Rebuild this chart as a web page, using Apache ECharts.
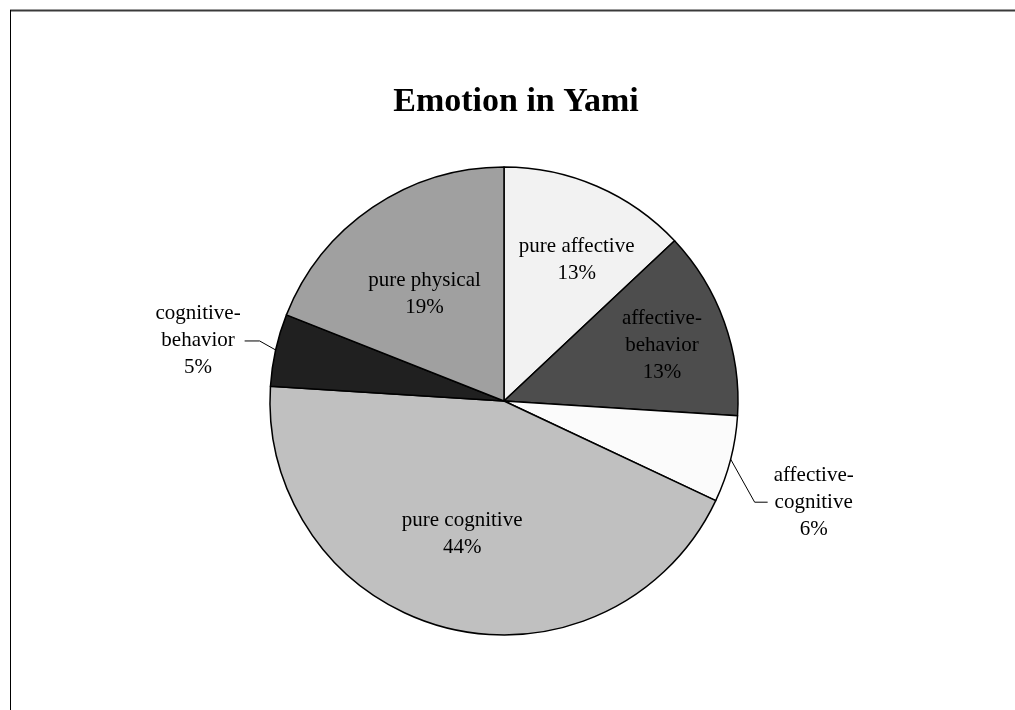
<!DOCTYPE html>
<html>
<head>
<meta charset="utf-8">
<script src="https://cdn.jsdelivr.net/npm/echarts@6/dist/echarts.min.js"></script>
<style>
  html, body { margin: 0; padding: 0; background: #ffffff; }
  #chart { width: 1015px; height: 710px; }
</style>
</head>
<body>
<div id="chart"></div>
<script>
// Share of each emotion type, in percent, clockwise from 12 o'clock
const categories = ['pure affective', 'affective-behavior', 'affective-cognitive', 'pure cognitive', 'cognitive-behavior', 'pure physical'];
// Label text split onto lines
const labelLines = [['pure affective'], ['affective-', 'behavior'], ['affective-', 'cognitive'], ['pure cognitive'], ['cognitive-', 'behavior'], ['pure physical']];
const values = [13, 13, 6, 44, 5, 19];
const sliceColors = ['#f2f2f2', '#4d4d4d', '#fbfbfb', '#c0c0c0', '#202020', '#a0a0a0'];

// Label placement tweaks: inside labels are nudged, outside ones get an elbow leader line
const labelPlacement = [
  { dx: 25, dy: -31 },
  { dx: 45, dy: -15 },
  { outside: true, side: 1, bend: [24, 43], end: [37, 43], gap: 6 },
  { dx: -12, dy: 17 },
  { outside: true, side: -1, bend: [-16, -9], end: [-31, -9], gap: 4 },
  { dx: -12, dy: -8 }
];

const FONT = '"Liberation Serif", "Times New Roman", serif';

const chart = echarts.init(document.getElementById('chart'), null, { renderer: 'canvas' });

const data = categories.map((name, i) => ({
  name: name,
  value: values[i],
  itemStyle: { color: sliceColors[i] },
  label: { position: labelPlacement[i].outside ? 'outside' : 'inside' },
  labelLine: { show: !!labelPlacement[i].outside }
}));

chart.setOption({
  animation: false,
  backgroundColor: '#ffffff',
  title: {
    text: 'Emotion in Yami',
    left: 511,
    textAlign: 'center',
    top: 80,
    textStyle: { fontFamily: FONT, fontSize: 34, fontWeight: 'bold', color: '#000000' }
  },
  graphic: [
    { type: 'line', shape: { x1: 10, y1: 10.5, x2: 1015, y2: 10.5 }, style: { stroke: '#3a3a3a', lineWidth: 2 }, silent: true },
    { type: 'line', shape: { x1: 10.5, y1: 10, x2: 10.5, y2: 710 }, style: { stroke: '#000000', lineWidth: 1 }, silent: true }
  ],
  series: [{
    type: 'pie',
    center: [504, 401],
    radius: 234,
    startAngle: 90,
    clockwise: true,
    avoidLabelOverlap: false,
    itemStyle: { borderColor: '#000000', borderWidth: 1.5 },
    label: {
      color: '#000000',
      fontFamily: FONT,
      fontSize: 21,
      lineHeight: 27,
      align: 'center',
      formatter: function (p) {
        return labelLines[p.dataIndex].concat([p.value + '%']).join('\n');
      }
    },
    labelLine: {
      lineStyle: { color: '#000000', width: 1 },
      length: 20,
      length2: 12
    },
    labelLayout: function (p) {
      const cfg = labelPlacement[p.dataIndex];
      if (!cfg.outside) {
        return { dx: cfg.dx, dy: cfg.dy };
      }
      const p0 = p.labelLinePoints ? p.labelLinePoints[0] : null;
      if (!p0) return {};
      const bend = [p0[0] + cfg.bend[0], p0[1] + cfg.bend[1]];
      const end = [p0[0] + cfg.end[0], p0[1] + cfg.end[1]];
      const w = p.labelRect.width;
      return {
        x: end[0] + cfg.side * (cfg.gap + w / 2),
        y: end[1],
        align: 'center',
        verticalAlign: 'middle',
        labelLinePoints: [p0, bend, end]
      };
    },
    data: data
  }]
});
</script>
</body>
</html>
